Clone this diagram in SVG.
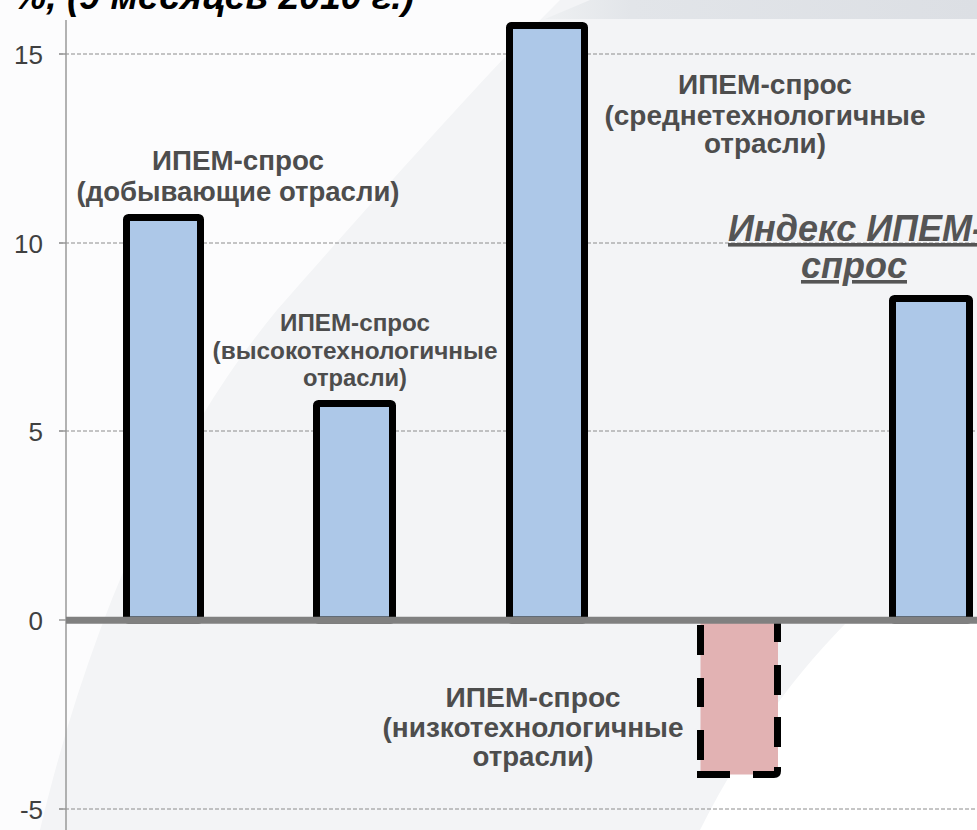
<svg xmlns="http://www.w3.org/2000/svg" width="977" height="830" viewBox="0 0 977 830">
<defs>
<linearGradient id="band" x1="0" y1="0" x2="1" y2="0">
<stop offset="0" stop-color="#eef0f2"/>
<stop offset="0.2" stop-color="#e2e5e9"/>
<stop offset="1" stop-color="#dcdfe4"/>
</linearGradient>
<style>
.grid{stroke:#8c8c8c;stroke-width:1;stroke-dasharray:4 2;fill:none}
.axis{stroke:#999999;stroke-width:1.5;fill:none}
.zero{stroke:#808080;stroke-width:7;fill:none}
.bar{fill:#adc8e8;stroke:#000;stroke-width:7;stroke-linejoin:round}
.neg{fill:#e2b2b3;stroke:none}
.negline{stroke:#000;stroke-width:7;fill:none}
.tick{font-family:"Liberation Sans",Arial,sans-serif;font-size:26px;fill:#404040;text-anchor:end}
.lbl{font-family:"Liberation Sans",Arial,sans-serif;font-size:27px;font-weight:bold;fill:#4d4d4d;text-anchor:middle}
.lbl2{font-family:"Liberation Sans",Arial,sans-serif;font-size:24px;font-weight:bold;fill:#4d4d4d;text-anchor:middle}
.idx{font-family:"Liberation Sans",Arial,sans-serif;font-size:36px;font-weight:bold;font-style:italic;fill:#555555;text-anchor:middle;text-decoration:underline}
.title{font-family:"Liberation Sans",Arial,sans-serif;font-size:36px;font-weight:bold;font-style:italic;fill:#000}
</style>
</defs>
<g id="background">
<rect x="0" y="0" width="977" height="830" fill="#f3f4f6"/>
<path d="M0,0 L560,0 C500,60 400,170 277,310 C170,440 90,620 40,830 L0,830 Z" fill="#ffffff" opacity="0.75"/>
<path d="M700,830 C740,750 790,680 845,624 L977,624 L977,830 Z" fill="#ffffff"/>
<path d="M590,0 L977,0 L977,19 L545,19 Z" fill="url(#band)"/>
</g>
<g id="title">
<text class="title" x="13" y="9" textLength="401" lengthAdjust="spacingAndGlyphs">%, (9 месяцев 2010 г.)</text>
</g>
<g id="axes">
<path class="grid" d="M59,54 H977 M59,243 H977 M59,431 H977 M59,809 H977"/>
<path class="axis" d="M66,20 V830 M59,54 H66 M59,243 H66 M59,431 H66 M59,620 H66 M59,809 H66"/>
<text class="tick" x="43" y="64">15</text>
<text class="tick" x="43" y="253">10</text>
<text class="tick" x="43" y="441">5</text>
<text class="tick" x="43" y="630">0</text>
<text class="tick" x="43" y="819">-5</text>
</g>
<g id="bar-dobyv"><rect class="bar" x="126.5" y="217.5" width="74" height="402.5" rx="2"/></g>
<g id="bar-vysoko"><rect class="bar" x="316.5" y="403.5" width="76" height="216.5" rx="2"/></g>
<g id="bar-sredne"><rect class="bar" x="509.5" y="25.5" width="75" height="594.5" rx="2"/></g>
<g id="bar-nizko">
<rect class="neg" x="700.5" y="620" width="77.5" height="154.5"/>
<path class="negline" d="M700.5,625 V655 M700.5,678 V707 M700.5,730 V760 M777.5,620 V642 M777.5,665 V695 M777.5,717 V747 M697,774.5 H730 M753,774.5 H774 Q777.5,774.5 777.5,771 V767"/>
</g>
<g id="bar-index"><rect class="bar" x="892.5" y="298.5" width="77" height="321.5" rx="2"/></g>
<g id="zero-line"><path class="zero" d="M66,620.3 H977"/></g>
<g id="label-dobyv">
<text class="lbl" x="238" y="170" textLength="172" lengthAdjust="spacingAndGlyphs">ИПЕМ-спрос</text>
<text class="lbl" x="238" y="201" textLength="323" lengthAdjust="spacingAndGlyphs">(добывающие отрасли)</text>
</g>
<g id="label-vysoko">
<text class="lbl2" x="355" y="331" textLength="150" lengthAdjust="spacingAndGlyphs">ИПЕМ-спрос</text>
<text class="lbl2" x="355" y="359" textLength="285" lengthAdjust="spacingAndGlyphs">(высокотехнологичные</text>
<text class="lbl2" x="355" y="386" textLength="104" lengthAdjust="spacingAndGlyphs">отрасли)</text>
</g>
<g id="label-sredne">
<text class="lbl" x="765" y="94" textLength="174" lengthAdjust="spacingAndGlyphs">ИПЕМ-спрос</text>
<text class="lbl" x="765" y="125" textLength="321" lengthAdjust="spacingAndGlyphs">(среднетехнологичные</text>
<text class="lbl" x="765" y="153" textLength="122" lengthAdjust="spacingAndGlyphs">отрасли)</text>
</g>
<g id="label-nizko">
<text class="lbl" x="533" y="707" textLength="175" lengthAdjust="spacingAndGlyphs">ИПЕМ-спрос</text>
<text class="lbl" x="533" y="737" textLength="301" lengthAdjust="spacingAndGlyphs">(низкотехнологичные</text>
<text class="lbl" x="533" y="766" textLength="121" lengthAdjust="spacingAndGlyphs">отрасли)</text>
</g>
<g id="label-index">
<text class="idx" x="856" y="241">Индекс ИПЕМ-</text>
<text class="idx" x="854" y="278">спрос</text>
</g>
</svg>
